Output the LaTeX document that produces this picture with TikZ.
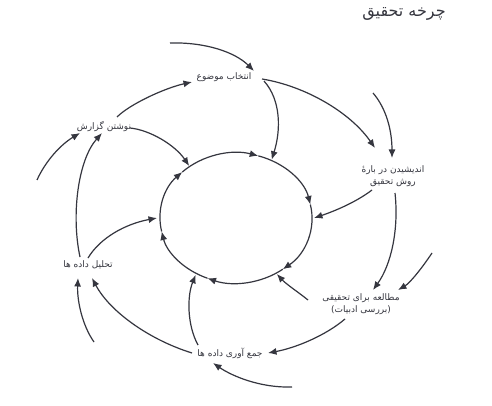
\documentclass[tikz,border=0pt]{standalone}
\usepackage{fontspec}
\newfontfamily\arabicfont[Script=Arabic]{DejaVu Sans}
\TeXXeTstate=1
\usetikzlibrary{arrows.meta,calc}
\definecolor{ink}{HTML}{35363F}
\newcommand{\fatext}[1]{{\arabicfont\beginR #1\endR}}
\begin{document}
\begin{tikzpicture}[x=1pt,y=-1pt,
  lbl/.style={inner sep=0.5pt, font={\arabicfont\fontsize{9}{12}\selectfont}, text=ink},
  ttl/.style={inner sep=0.5pt, font={\arabicfont\fontsize{16}{18}\selectfont}, text=ink},
  arr/.style={draw=ink, line width=1.2pt, -{Latex[length=8.5pt,width=7pt]}}]
\useasboundingbox[fill=white] (0,0) rectangle (492,406);

% nodes
\node[ttl] (title) at (404,14) {\fatext{چرخه تحقیق}};
\node[lbl] (entekhab) at (224,77) {\fatext{انتخاب موضوع}};
\node[lbl, align=center] (andishidan) at (393,176) {\fatext{اندیشیدن در بارهٔ}\\\fatext{روش تحقیق}};
\node[lbl, align=center] (motalee) at (361,304) {\fatext{مطالعه برای تحقیقی}\\\fatext{(بررسی ادبیات)}};
\node[lbl] (jam) at (230,353) {\fatext{جمع آوری داده ها}};
\node[lbl] (tahlil) at (88,265) {\fatext{تحلیل داده ها}};
\node[lbl] (neveshtan) at (104,127) {\fatext{نوشتن گزارش}};

% central cycle (angles negated because the y axis points down)
\coordinate (c) at (236,218);
\foreach \a/\b in {-135/-73, -73/-12, -12/52, 52/112, 112/168, 168/225}
  \draw[arr] ($(c)+(\a:76 and 65)$) arc[start angle=\a, end angle=\b, x radius=76, y radius=65];
\coordinate (e62) at ($(c)+(-62:76 and 66)$);
\coordinate (e0) at ($(c)+(0:78 and 65)$);
\coordinate (em58) at ($(c)+(58:77 and 66)$);
\coordinate (em122) at ($(c)+(122:76 and 67)$);
\coordinate (e180) at ($(c)+(180:79 and 65)$);
\coordinate (e128) at ($(c)+(-128:76 and 66)$);

% free starts
\coordinate (s1) at (170,43);
\coordinate (s4) at (373,93);
\coordinate (s7) at (432,253);
\coordinate (s10) at (292,387);
\coordinate (s13) at (94,342);
\coordinate (s16) at (37,180);

% connectors
\draw[arr] (s1) .. controls (205,42) and (235,52) .. ([shift={(30,-6)}]entekhab.center);
\draw[arr] ([shift={(38,2)}]entekhab.center) .. controls (305,86) and (350,112) .. ([shift={(-18,-28)}]andishidan.center);
\draw[arr] ([shift={(40,4)}]entekhab.center) .. controls (281,100) and (281,130) .. (e62);
\draw[arr] (s4) .. controls (386,108) and (392,130) .. ([shift={(-1,-18)}]andishidan.center);
\draw[arr] ([shift={(-21,14)}]andishidan.center) .. controls (355,203) and (332,212) .. (e0);
\draw[arr] ([shift={(2,17)}]andishidan.center) .. controls (399,230) and (391,265) .. ([shift={(12,-14)}]motalee.center);
\draw[arr] (s7) .. controls (422,268) and (410,283) .. ([shift={(37,-14)}]motalee.center);
\draw[arr] ([shift={(-53,-4)}]motalee.center) .. controls (298,292) and (286,284) .. (em58);
\draw[arr] ([shift={(-16,15)}]motalee.center) .. controls (325,336) and (295,348) .. ([shift={(38,0)}]jam.center);
\draw[arr] (s10) .. controls (260,388) and (232,376) .. ([shift={(-17,10)}]jam.center);
\draw[arr] ([shift={(-32,-8)}]jam.center) .. controls (187,325) and (187,296) .. (em122);
\draw[arr] ([shift={(-38,0)}]jam.center) .. controls (150,340) and (110,312) .. ([shift={(4,13)}]tahlil.center);
\draw[arr] (s13) .. controls (82,325) and (77,300) .. ([shift={(-10,13)}]tahlil.center);
\draw[arr] ([shift={(0,-7)}]tahlil.center) .. controls (100,238) and (125,224) .. (e180);
\draw[arr] ([shift={(-8,-8)}]tahlil.center) .. controls (71,215) and (78,160) .. ([shift={(-2,6)}]neveshtan.center);
\draw[arr] (s16) .. controls (45,162) and (60,145) .. ([shift={(-24,6)}]neveshtan.center);
\draw[arr] ([shift={(26,1)}]neveshtan.center) .. controls (150,130) and (175,145) .. (e128);
\draw[arr] ([shift={(13,-10)}]neveshtan.center) .. controls (130,104) and (165,88) .. ([shift={(-32,5)}]entekhab.center);
\end{tikzpicture}
\end{document}
